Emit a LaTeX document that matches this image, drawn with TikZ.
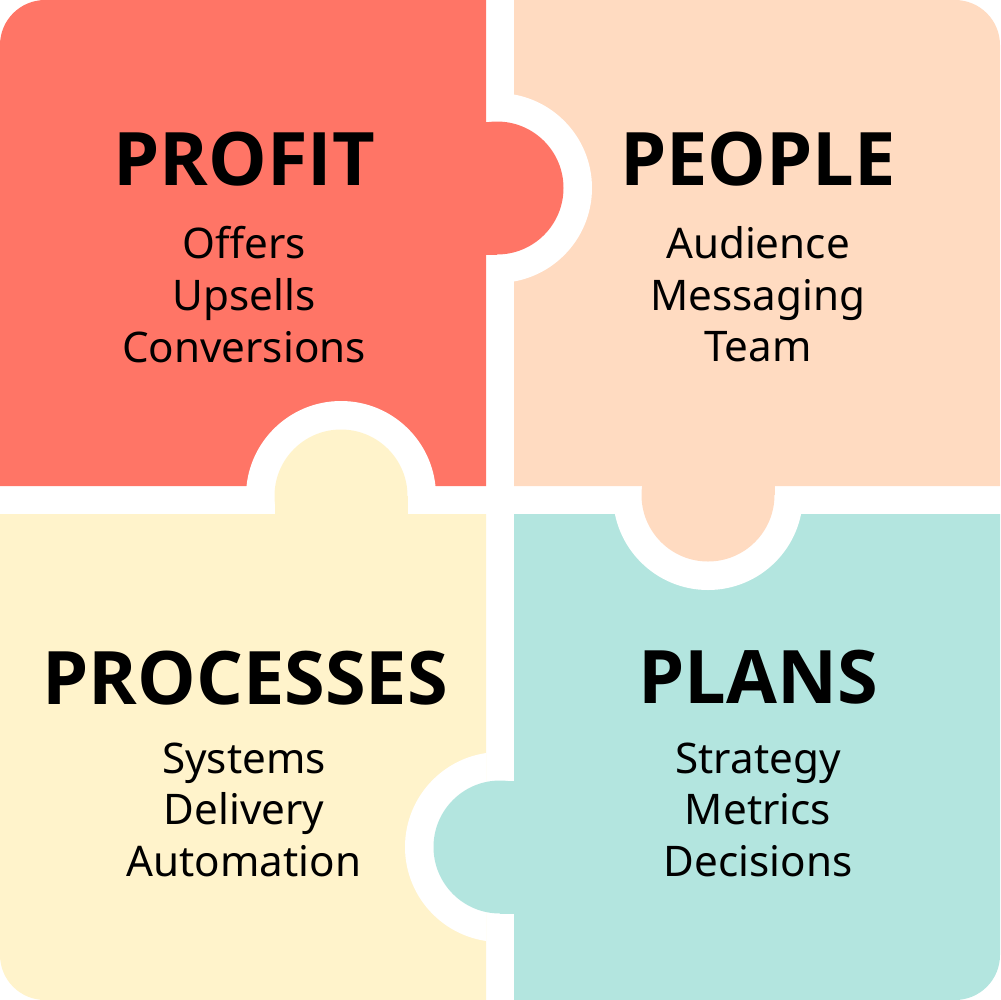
\documentclass[tikz,border=0pt]{standalone}
\usepackage{fontspec}
\setmainfont{Noto Sans}
\newfontfamily\titlefont{Open Sans}
\usepackage{xcolor}
\usetikzlibrary{positioning}

\definecolor{profitred}{HTML}{FF7566}
\definecolor{peoplepeach}{HTML}{FFDBC1}
\definecolor{procyellow}{HTML}{FFF3CB}
\definecolor{planteal}{HTML}{B3E5DF}

\begin{document}
\begin{tikzpicture}[x=0.1mm, y=-0.1mm,
  title/.style={font=\fontsize{21}{24}\selectfont\titlefont\bfseries, inner sep=0pt},
  items/.style={font=\fontsize{12}{14.66}\selectfont, align=center, inner sep=0pt, anchor=north},
  ring/.style={fill=white}
]
\useasboundingbox (0,0) rectangle (1000,1000);
% four pieces, outer corners rounded
\fill[profitred] (0,486) -- (0,45) arc[start angle=180, end angle=270, radius=45] -- (486,0) -- (486,486) -- cycle;
\fill[peoplepeach] (514,0) -- (955,0) arc[start angle=270, end angle=360, radius=45] -- (1000,486) -- (514,486) -- cycle;
\fill[procyellow] (0,514) -- (486,514) -- (486,1000) -- (45,1000) arc[start angle=90, end angle=180, radius=45] -- cycle;
\fill[planteal] (514,514) -- (1000,514) -- (1000,955) arc[start angle=0, end angle=90, radius=45] -- (514,1000) -- cycle;
% white sockets round the tabs
\begin{scope}
  \clip (514,0) rectangle (1000,486);
  \fill[ring] (497,188) circle[radius=95];
\end{scope}
\begin{scope}
  \clip (0,0) rectangle (486,486);
  \fill[ring] (341,496) circle[radius=95];
\end{scope}
\begin{scope}
  \clip (514,514) rectangle (1000,1000);
  \fill[ring] (708,495) circle[radius=95];
\end{scope}
\begin{scope}
  \clip (0,514) rectangle (486,1000);
  \fill[ring] (500,847) circle[radius=95];
\end{scope}
% tabs
\fill[profitred] (497,188) circle[radius=66.5];
\fill[profitred] (480,121.5) rectangle (497,254.5);
\fill[procyellow] (341,496) circle[radius=66.5];
\fill[procyellow] (274.5,496) rectangle (407.5,520);
\fill[peoplepeach] (708,495) circle[radius=66.5];
\fill[peoplepeach] (641.5,480) rectangle (774.5,495);
\fill[planteal] (500,847) circle[radius=66.5];
\fill[planteal] (500,780.5) rectangle (520,913.5);
% texts
\node[title] (profit) at (244,159) {PROFIT};
\node[items] (profitlist) at (244,226) {Offers\\Upsells\\Conversions};
\node[title] (people) at (758,159) {PEOPLE};
\node[items] (peoplelist) at (758,226) {Audience\\Messaging\\Team};
\node[title] (processes) at (245,678) {PROCESSES};
\node[items] (processlist) at (244,742) {Systems\\Delivery\\Automation};
\node[title] (plans) at (758,677) {PLANS};
\node[items] (planlist) at (758,742) {Strategy\\Metrics\\Decisions};
\end{tikzpicture}
\end{document}
